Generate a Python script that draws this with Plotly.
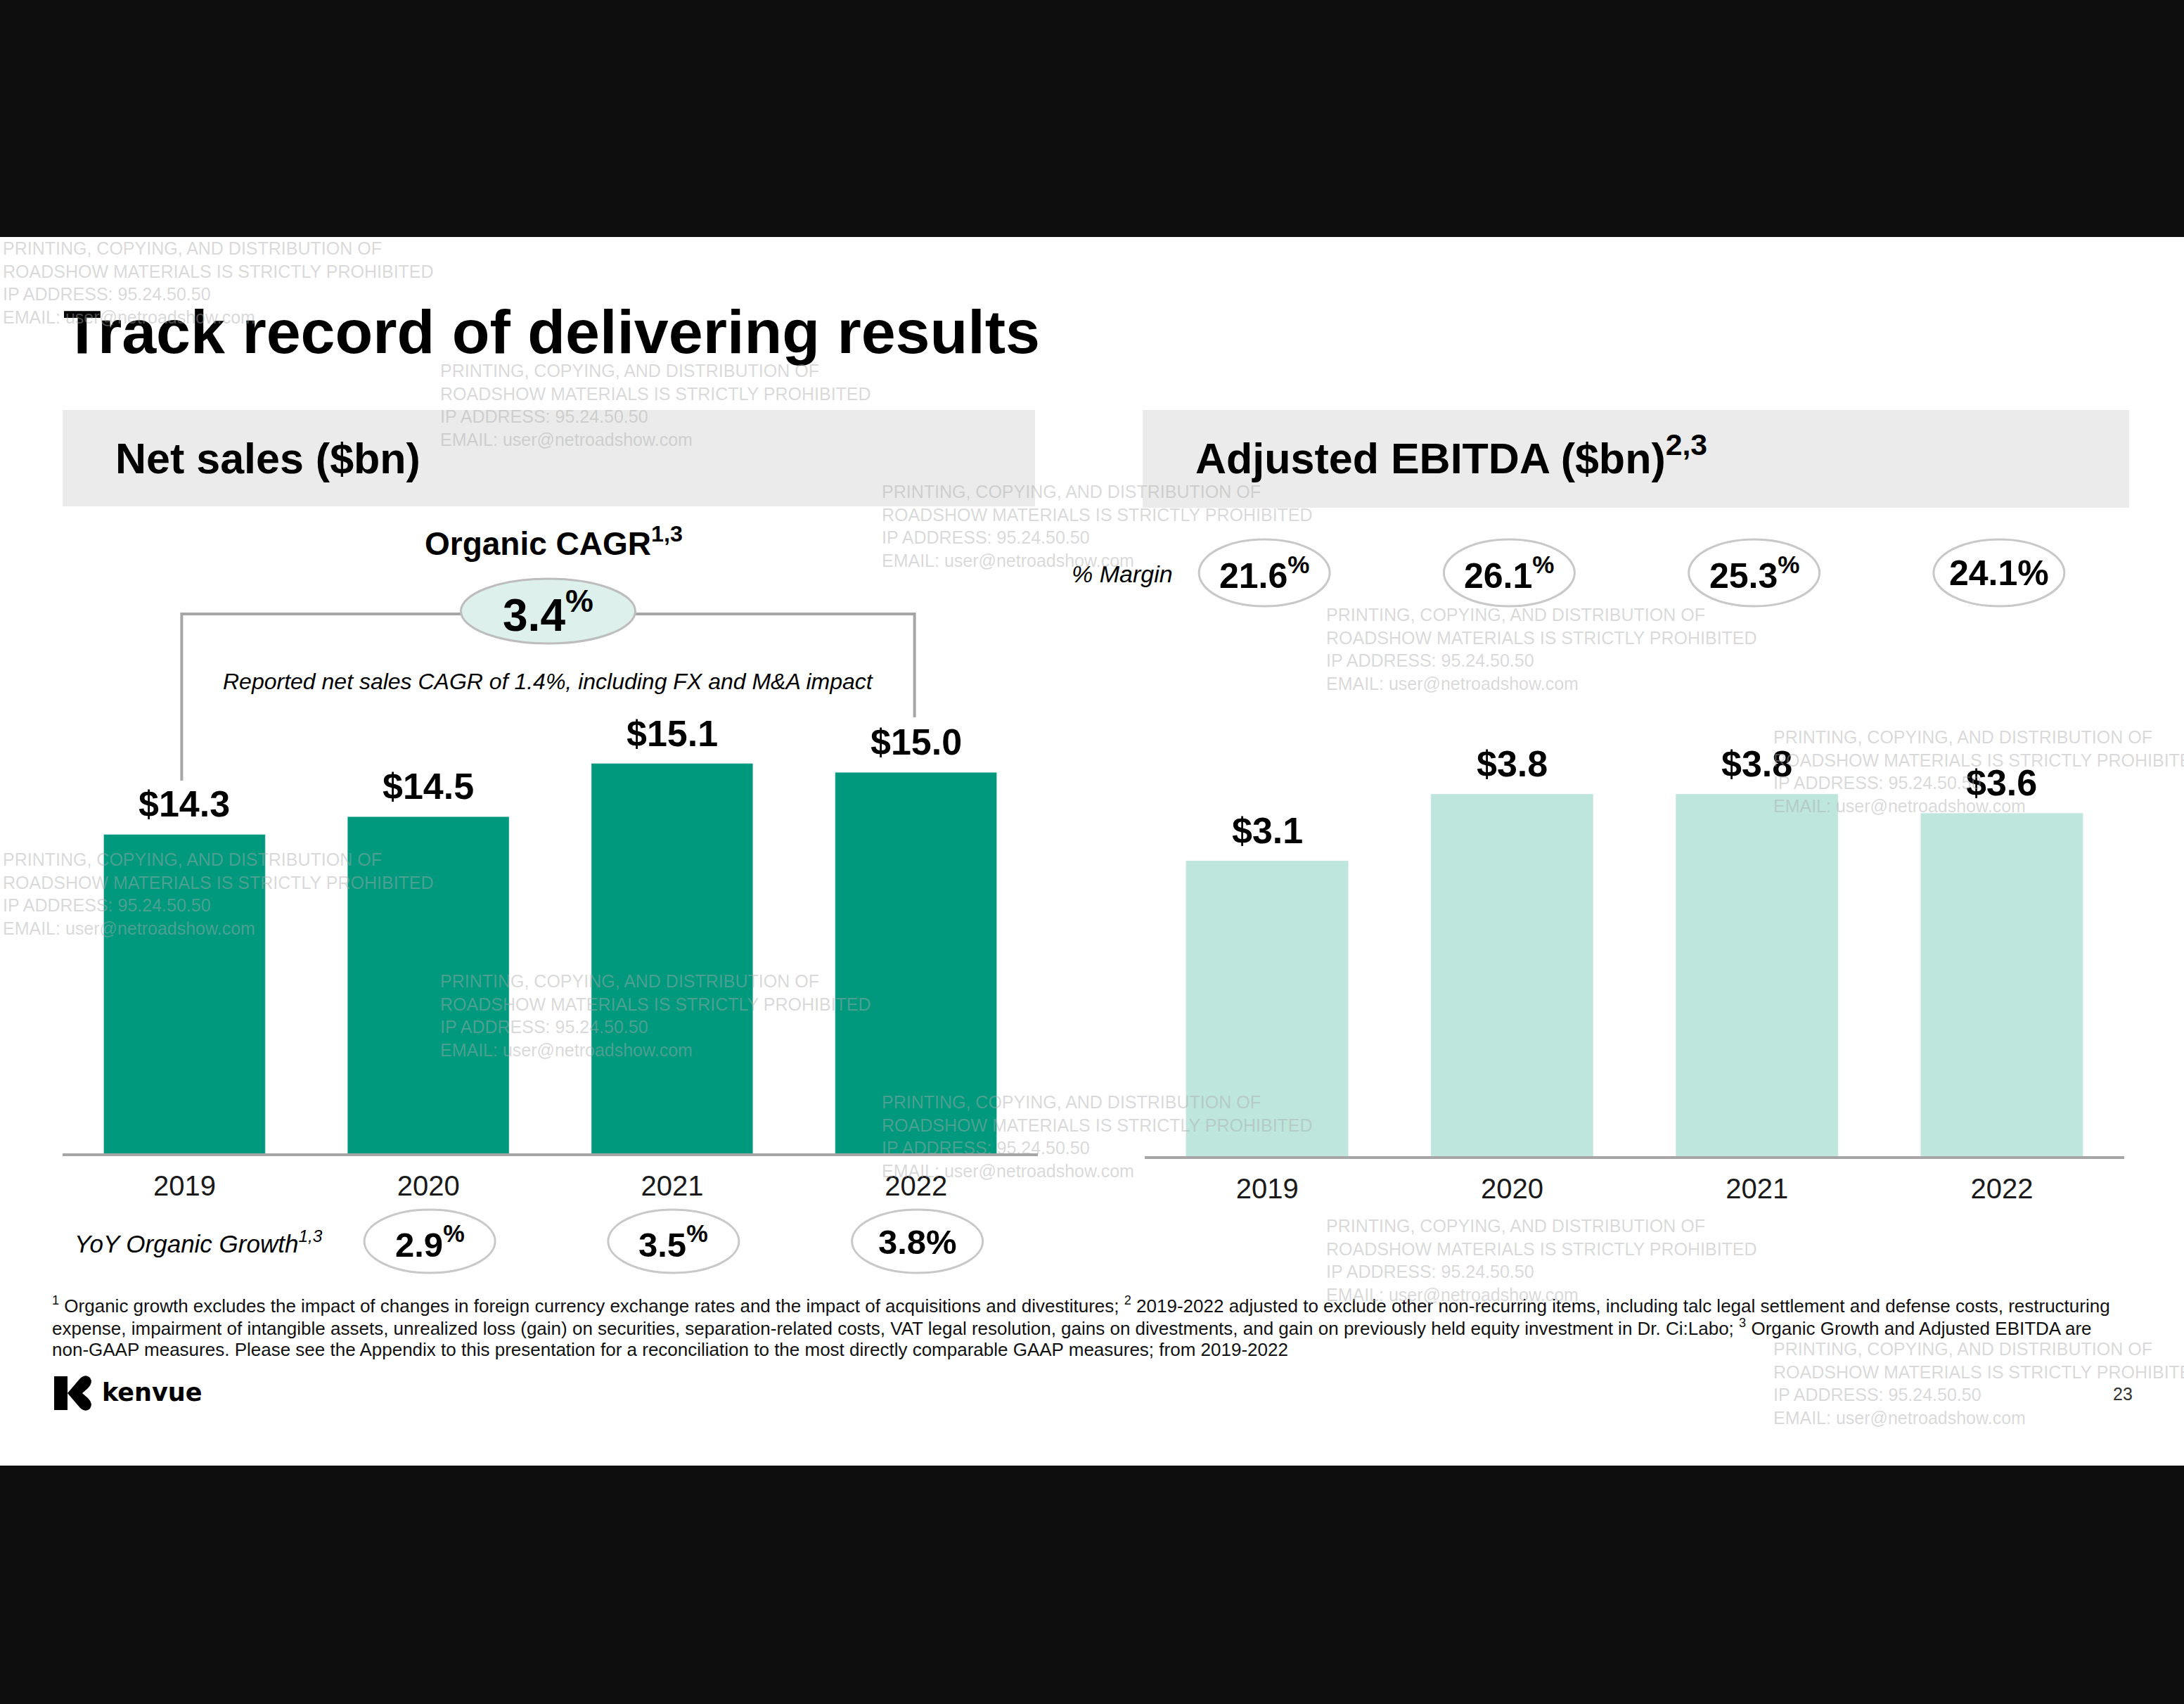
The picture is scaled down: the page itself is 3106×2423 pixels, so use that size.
import plotly.graph_objects as go

# ---------------- data ----------------
years = ["2019", "2020", "2021", "2022"]
net_sales = [14.3, 14.5, 15.1, 15.0]          # $bn
adj_ebitda = [3.1, 3.8, 3.8, 3.6]             # $bn
ebitda_margin = [21.6, 26.1, 25.3, 24.1]      # %
yoy_organic_growth = [None, 2.9, 3.5, 3.8]    # %
organic_cagr = 3.4
reported_cagr = 1.4

title_text = "Track record of delivering results"
left_header = "Net sales ($bn)"
right_header = "Adjusted EBITDA ($bn)<sup>2,3</sup>"
footnotes = [
    "<sup>1</sup> Organic growth excludes the impact of changes in foreign currency exchange rates and the impact of acquisitions and divestitures; <sup>2</sup> 2019-2022 adjusted to exclude other non-recurring items, including talc legal settlement and defense costs, restructuring",
    "expense, impairment of intangible assets, unrealized loss (gain) on securities, separation-related costs, VAT legal resolution, gains on divestments, and gain on previously held equity investment in Dr. Ci:Labo; <sup>3</sup> Organic Growth and Adjusted EBITDA are",
    "non-GAAP measures. Please see the Appendix to this presentation for a reconciliation to the most directly comparable GAAP measures; from 2019-2022",
]
watermark = ("PRINTING, COPYING, AND DISTRIBUTION OF<br>ROADSHOW MATERIALS IS STRICTLY PROHIBITED"
             "<br>IP ADDRESS: 95.24.50.50<br>EMAIL: user@netroadshow.com")
page_number = "23"

# style: whether the % sign is superscripted
margin_pct_sup = [True, True, True, False]
yoy_pct_sup = [None, True, True, False]

# ---------------- geometry helpers ----------------
W, H = 3106, 2423
FONT = "Liberation Sans, Arial, Helvetica, sans-serif"


def px(x):
    return x / W


def py(y):
    return 1 - y / H


L_X0, L_X1, L_BASE = 89, 1476, 1640
R_X0, R_X1, R_BASE = 1628, 3021, 1644
PLOT_H = 600
L_Y0, L_K = 10.7, 126.0
R_K = 135.5


def l_center(i):
    return L_X0 + (i + 0.5) * (L_X1 - L_X0) / len(years)


def r_center(i):
    return R_X0 + (i + 0.5) * (R_X1 - R_X0) / len(years)


TEAL = "#00997E"
MINT = "#BEE6DD"
GREY_LINE = "#A6A6A6"
HEADER_BG = "#EBEBEB"
WM_COLOR = "rgba(170,170,170,0.45)"

fig = go.Figure()

fig.add_trace(go.Bar(x=years, y=net_sales, marker_color=TEAL, xaxis="x", yaxis="y",
                     hoverinfo="skip", showlegend=False))
fig.add_trace(go.Bar(x=years, y=adj_ebitda, marker_color=MINT, xaxis="x2", yaxis="y2",
                     hoverinfo="skip", showlegend=False))

annotations = []
shapes = []

# slide background
shapes.append(dict(type="rect", xref="paper", yref="paper", x0=0, x1=1, y0=py(2084), y1=py(337),
                   fillcolor="white", line_width=0, layer="below"))
# header boxes
shapes.append(dict(type="rect", xref="paper", yref="paper", x0=px(89), x1=px(1472), y0=py(720), y1=py(583),
                   fillcolor=HEADER_BG, line_width=0, layer="below"))
shapes.append(dict(type="rect", xref="paper", yref="paper", x0=px(1625), x1=px(3028), y0=py(722), y1=py(583),
                   fillcolor=HEADER_BG, line_width=0, layer="below"))

# title & headers
annotations.append(dict(text=f"<b>{title_text}</b>", x=px(88), y=py(472), xref="paper", yref="paper",
                        xanchor="left", yanchor="middle", showarrow=False,
                        font=dict(family=FONT, size=88, color="black")))
annotations.append(dict(text=f"<b>{left_header}</b>", x=px(162), y=py(652), xref="paper", yref="paper",
                        xanchor="left", yanchor="middle", showarrow=False,
                        font=dict(family=FONT, size=61, color="black")))
annotations.append(dict(text=f"<b>{right_header}</b>", x=px(1698), y=py(647), xref="paper", yref="paper",
                        xanchor="left", yanchor="middle", showarrow=False,
                        font=dict(family=FONT, size=61, color="black")))

# bar value labels (positioned through the data axes; x is the category index)
for i, v in enumerate(net_sales):
    annotations.append(dict(text="<b>&#36;" + f"{v:.1f}</b>", x=i, y=v, xref="x", yref="y", yshift=43,
                            xanchor="center", yanchor="middle", showarrow=False,
                            font=dict(family=FONT, size=52, color="black")))
for i, v in enumerate(adj_ebitda):
    annotations.append(dict(text="<b>&#36;" + f"{v:.1f}</b>", x=i, y=v, xref="x2", yref="y2", yshift=43,
                            xanchor="center", yanchor="middle", showarrow=False,
                            font=dict(family=FONT, size=52, color="black")))

# organic CAGR bracket
lx, rx = l_center(0) - 4, l_center(3) - 2
bracket_y = 873
shapes.append(dict(type="path", xref="paper", yref="paper",
                   path=f"M{px(lx)},{py(1110)} L{px(lx)},{py(bracket_y)} L{px(rx)},{py(bracket_y)} L{px(rx)},{py(1020)}",
                   line=dict(color=GREY_LINE, width=4), layer="below"))
cx = (lx + rx) / 2
shapes.append(dict(type="circle", xref="paper", yref="paper", x0=px(cx - 124), x1=px(cx + 124),
                   y0=py(915), y1=py(823), fillcolor="#DDF0EC", line=dict(color="#BDBDBD", width=3),
                   layer="below"))
annotations.append(dict(text=f"<b>{organic_cagr:.1f}<sup>%</sup></b>", x=px(cx), y=py(870), xref="paper",
                        yref="paper", xanchor="center", yanchor="middle", showarrow=False,
                        font=dict(family=FONT, size=64, color="black")))
annotations.append(dict(text="<b>Organic CAGR<sup>1,3</sup></b>", x=px(cx + 8), y=py(770), xref="paper",
                        yref="paper", xanchor="center", yanchor="middle", showarrow=False,
                        font=dict(family=FONT, size=46, color="black")))
annotations.append(dict(text=f"<i>Reported net sales CAGR of {reported_cagr:.1f}%, including FX and M&A impact</i>",
                        x=px(cx), y=py(969), xref="paper", yref="paper", xanchor="center", yanchor="middle",
                        showarrow=False, font=dict(family=FONT, size=32, color="black")))

# % margin row
annotations.append(dict(text="<i>% Margin</i>", x=px(1670), y=py(816), xref="paper", yref="paper",
                        xanchor="right", yanchor="middle", showarrow=False,
                        font=dict(family=FONT, size=34, color="black")))
for i, (m, sup) in enumerate(zip(ebitda_margin, margin_pct_sup)):
    c = r_center(i) - 4
    shapes.append(dict(type="circle", xref="paper", yref="paper", x0=px(c - 93), x1=px(c + 93),
                       y0=py(862), y1=py(767), fillcolor="white", line=dict(color="#C8C8C8", width=3),
                       layer="below"))
    pct = "<sup>%</sup>" if sup else "%"
    annotations.append(dict(text=f"<b>{m:.1f}{pct}</b>", x=px(c), y=py(815), xref="paper", yref="paper",
                            xanchor="center", yanchor="middle", showarrow=False,
                            font=dict(family=FONT, size=50, color="black")))

# YoY organic growth row
annotations.append(dict(text="<i>YoY Organic Growth<sup>1,3</sup></i>", x=px(104), y=py(1766), xref="paper",
                        yref="paper", xanchor="left", yanchor="middle", showarrow=False,
                        font=dict(family=FONT, size=35, color="black")))
for i, (g, sup) in enumerate(zip(yoy_organic_growth, yoy_pct_sup)):
    if g is None:
        continue
    c = l_center(i) + 2
    shapes.append(dict(type="circle", xref="paper", yref="paper", x0=px(c - 93), x1=px(c + 93),
                       y0=py(1810), y1=py(1720), fillcolor="white", line=dict(color="#C8C8C8", width=3),
                       layer="below"))
    pct = "<sup>%</sup>" if sup else "%"
    annotations.append(dict(text=f"<b>{g:.1f}{pct}</b>", x=px(c), y=py(1766), xref="paper", yref="paper",
                            xanchor="center", yanchor="middle", showarrow=False,
                            font=dict(family=FONT, size=49, color="black")))

# footnotes
for k, line in enumerate(footnotes):
    annotations.append(dict(text=line, x=px(72), y=py(1856 + k * 31.5), xref="paper", yref="paper",
                            xanchor="left", yanchor="middle", showarrow=False,
                            font=dict(family=FONT, size=26, color="#111111")))

# logo
shapes.append(dict(type="path", xref="paper", yref="paper",
                   path=(f"M{px(77)},{py(1957)} L{px(96)},{py(1957)} L{px(96)},{py(2005)} L{px(77)},{py(2005)} Z"),
                   fillcolor="black", line_width=0, layer="below"))
shapes.append(dict(type="path", xref="paper", yref="paper",
                   path=(f"M{px(96)},{py(1981)} L{px(114)},{py(1960)} Q{px(122)},{py(1953)} {px(128)},{py(1959)} "
                         f"Q{px(133)},{py(1966)} {px(125)},{py(1974)} L{px(117)},{py(1981)} L{px(125)},{py(1988)} "
                         f"Q{px(133)},{py(1996)} {px(128)},{py(2003)} Q{px(122)},{py(2009)} {px(114)},{py(2002)} Z"),
                   fillcolor="black", line_width=0, layer="below"))
annotations.append(dict(text="<b>kenvue</b>", x=px(143), y=py(1980), xref="paper", yref="paper",
                        xanchor="left", yanchor="middle", showarrow=False,
                        font=dict(family="DejaVu Sans, sans-serif", size=35, color="black")))
annotations.append(dict(text=page_number, x=px(3019), y=py(1982), xref="paper", yref="paper",
                        xanchor="center", yanchor="middle", showarrow=False,
                        font=dict(family=FONT, size=25, color="#333333")))

# watermarks
wm_positions = [(4, 353), (626, 527), (1254, 699), (1886, 874), (2522, 1048),
                (4, 1222), (626, 1395), (1254, 1567), (1886, 1743), (2522, 1918)]
for (wx, wy) in wm_positions:
    annotations.append(dict(text=watermark, x=px(wx - 2), y=py(wy - 16), xref="paper", yref="paper",
                            xanchor="left", yanchor="top", align="left", showarrow=False,
                            font=dict(family=FONT, size=25, color=WM_COLOR)))

fig.update_layout(
    width=W, height=H,
    margin=dict(l=0, r=0, t=0, b=0),
    paper_bgcolor="#0E0E0E",
    plot_bgcolor="rgba(0,0,0,0)",
    bargap=0.337,
    showlegend=False,
    xaxis=dict(domain=[px(L_X0), px(L_X1)], anchor="y", type="category", range=[-0.5, 3.5],
               showline=True, linecolor=GREY_LINE, linewidth=4, showgrid=False, zeroline=False,
               ticks="outside", ticklen=8, tickcolor="rgba(0,0,0,0)",
               tickfont=dict(family=FONT, size=40, color="#1a1a1a"), fixedrange=True),
    yaxis=dict(domain=[py(L_BASE), py(L_BASE - PLOT_H)], anchor="x",
               range=[L_Y0, L_Y0 + PLOT_H / L_K], visible=False, fixedrange=True),
    xaxis2=dict(domain=[px(R_X0), px(R_X1)], anchor="y2", type="category", range=[-0.5, 3.5],
                showline=True, linecolor=GREY_LINE, linewidth=4, showgrid=False, zeroline=False,
                ticks="outside", ticklen=8, tickcolor="rgba(0,0,0,0)",
                tickfont=dict(family=FONT, size=40, color="#1a1a1a"), fixedrange=True),
    yaxis2=dict(domain=[py(R_BASE), py(R_BASE - PLOT_H)], anchor="x2",
                range=[0, PLOT_H / R_K], visible=False, fixedrange=True),
    shapes=shapes,
    annotations=annotations,
)

fig.write_html("out.html", config={"displayModeBar": False},
               post_script="document.body.style.margin='0';document.body.style.overflow='hidden';")
